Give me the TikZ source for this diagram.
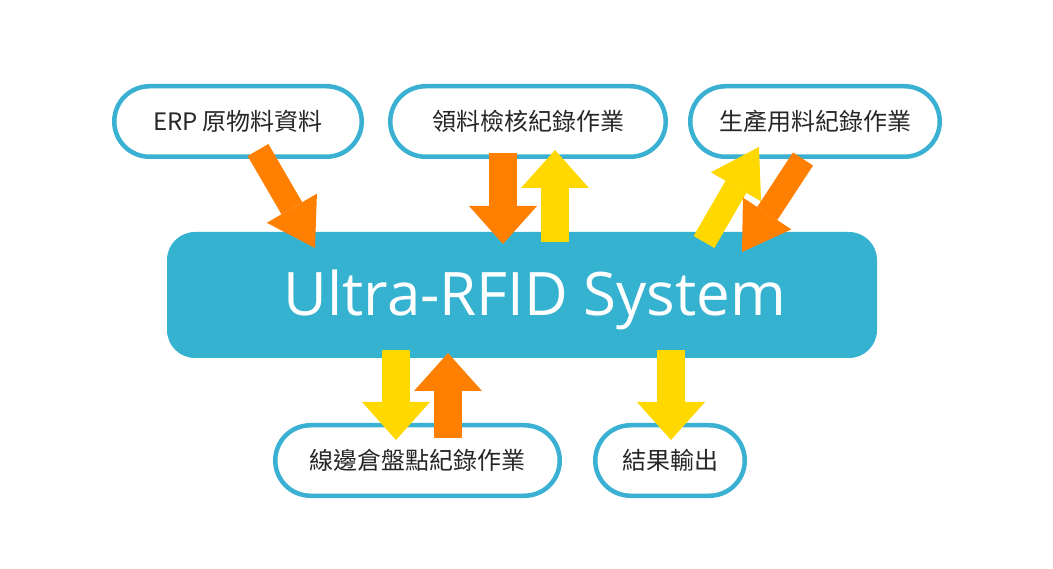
\documentclass[tikz,border=0pt]{standalone}
\usepackage{fontspec}
\usepackage{xcolor}
\usepackage{tikz}
\usetikzlibrary{arrows.meta,shapes.misc}
\newfontfamily\cjkfont{Noto Sans CJK TC}
\newfontfamily\titlefont{Open Sans}

\definecolor{pillblue}{RGB}{58,176,210}
\definecolor{sysblue}{RGB}{54,178,209}
\definecolor{arroworange}{RGB}{255,128,0}
\definecolor{arrowyellow}{RGB}{255,216,0}

\tikzset{
  pill/.style={draw=pillblue, line width=4.5pt, fill=white, rounded rectangle,
    minimum height=70.5pt, inner sep=0pt, text=black!85,
    font=\cjkfont\fontsize{24}{28}\selectfont},
  sysbox/.style={fill=sysblue, rounded corners=28pt, inner sep=0pt},
  systitle/.style={text=white, font=\titlefont\fontsize{60}{70}\selectfont},
  flatarrow/.style={line width=28pt, -{Triangle[width=68pt,length=38pt,line width=0pt]}},
  slantarrow/.style={line width=24pt, -{Triangle[width=58pt,length=46pt,line width=0pt]}}
}

\begin{document}
\begin{tikzpicture}[x=1pt,y=-1pt]
\fill[white] (0,0) rectangle (1053,569);
\useasboundingbox (0,0) rectangle (1053,569);

\node[sysbox, minimum width=710pt, minimum height=126pt] (sys) at (522,295) {};
\node[systitle, anchor=base] (title) at (535,316) {Ultra-RFID System};

\node[pill, minimum width=247.5pt] (erp) at (238,121.5) {ERP 原物料資料};
\node[pill, minimum width=275.5pt] (check) at (528,121.5) {領料檢核紀錄作業};
\node[pill, minimum width=249.5pt] (prod) at (815,121.5) {生產用料紀錄作業};
\node[pill, minimum width=284.5pt] (stock) at (417.5,460.5) {線邊倉盤點紀錄作業};
\node[pill, minimum width=149.5pt] (output) at (670,460.5) {結果輸出};

\coordinate (erpA) at (258,150);   \coordinate (sysA) at (315,248);
\coordinate (checkA) at (503,153); \coordinate (sysB) at (503,244);
\coordinate (sysC) at (555,242);   \coordinate (checkC) at (555,150);
\coordinate (sysD) at (704,242);   \coordinate (prodD) at (759,147);
\coordinate (prodE) at (803,159);  \coordinate (sysE) at (742,252);
\coordinate (sysF) at (396,350);   \coordinate (stockF) at (396,440);
\coordinate (stockG) at (448,438); \coordinate (sysG) at (448,353);
\coordinate (sysH) at (671,350);   \coordinate (outputH) at (671,440);

\draw[slantarrow, arroworange] (erpA) -- (sysA);
\draw[flatarrow, arroworange] (checkA) -- (sysB);
\draw[flatarrow, arrowyellow] (sysC) -- (checkC);
\draw[slantarrow, arrowyellow] (sysD) -- (prodD);
\draw[slantarrow, arroworange] (prodE) -- (sysE);
\draw[flatarrow, arrowyellow] (sysF) -- (stockF);
\draw[flatarrow, arroworange] (stockG) -- (sysG);
\draw[flatarrow, arrowyellow] (sysH) -- (outputH);
\end{tikzpicture}
\end{document}
